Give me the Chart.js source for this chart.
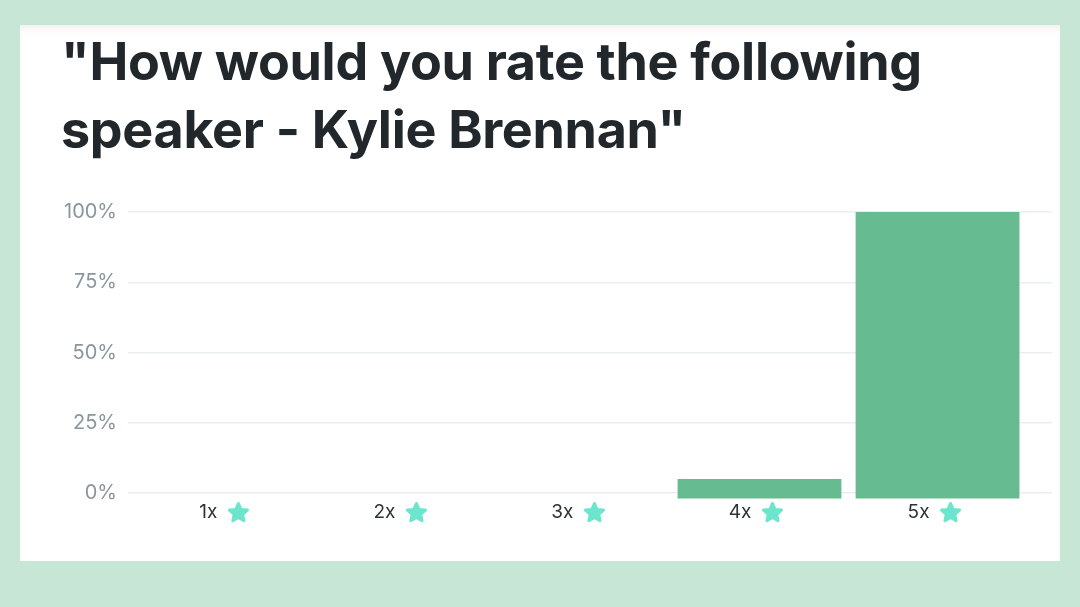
<!DOCTYPE html>
<html>
<head>
<meta charset="utf-8">
<script src="https://cdn.jsdelivr.net/npm/chart.js@4"></script>
<style>
  html, body { margin: 0; padding: 0; }
  body { width: 1080px; height: 607px; background: #c8e6d6; position: relative; overflow: hidden; }
  .card {
    position: absolute; left: 20px; top: 25px; width: 1040px; height: 536px;
    background: #fff; box-shadow: inset 0 10px 10px -8px rgba(0,0,0,0.08);
  }
  h1 {
    position: absolute; left: 41px; top: 3px; margin: 0;
    font-family: Inter, "Noto Sans", sans-serif; font-weight: 700;
    font-size: 52px; line-height: 68px; color: #22272b; letter-spacing: -0.3px;
  }
  .chart-box { position: absolute; left: 0; top: 155px; width: 1040px; height: 360px; }
</style>
</head>
<body>
<div class="card">
  <h1>"How would you rate the following<br>speaker - Kylie Brennan"</h1>
  <div class="chart-box"><canvas id="ratingChart"></canvas></div>
</div>
<script>
// Chart data
const categories = ['1x', '2x', '3x', '4x', '5x'];
const percentages = [0, 0, 0, 5, 100];
const yTicks = [0, 25, 50, 75, 100];

// Draw "Nx" labels with a star under each bar
const starLabels = {
    id: 'starLabels',
    afterDatasetsDraw(chart) {
        const { ctx, chartArea, scales } = chart;
        const y = chartArea.bottom + 19;
        ctx.save();
        categories.forEach((label, i) => {
            const px = scales.x.getPixelForValue(i + 1);
            ctx.font = '19px Inter, "Noto Sans", sans-serif';
            ctx.fillStyle = '#2e3236';
            ctx.textAlign = 'right';
            ctx.textBaseline = 'middle';
            ctx.fillText(label, px - 8, y);

            // star
            const cx = px + 13, cy = y + 1;
            ctx.beginPath();
            for (let k = 0; k < 10; k++) {
                const r = k % 2 === 0 ? 9.5 : 4.4;
                const a = -Math.PI / 2 + k * Math.PI / 5;
                const sx = cx + r * Math.cos(a), sy = cy + r * Math.sin(a);
                if (k === 0) ctx.moveTo(sx, sy); else ctx.lineTo(sx, sy);
            }
            ctx.closePath();
            ctx.fillStyle = '#6be6cc';
            ctx.strokeStyle = '#6be6cc';
            ctx.lineWidth = 3;
            ctx.lineJoin = 'round';
            ctx.fill();
            ctx.stroke();
        });
        ctx.restore();
    }
};

function initRatingChart() {
    const ctx = document.getElementById('ratingChart').getContext('2d');

    const config = {
        type: 'bar',
        data: {
            datasets: [{
                data: percentages.map((v, i) => ({ x: i + 1, y: v })),
                backgroundColor: (c) => (c.raw && c.raw.y > 0 ? '#66bb90' : 'rgba(0,0,0,0)'),
                borderWidth: 0,
                base: -2,
                categoryPercentage: 1,
                barPercentage: 0.92,
                clip: false
            }]
        },
        options: {
            responsive: true,
            maintainAspectRatio: false,
            animation: false,
            layout: { padding: { top: 32, right: 8, left: 0, bottom: 0 } },
            plugins: {
                legend: { display: false },
                tooltip: { enabled: false }
            },
            scales: {
                x: {
                    type: 'linear',
                    offset: false,
                    min: 0.453,
                    max: 5.643,
                    afterBuildTicks: (scale) => {
                        scale.ticks = categories.map((c, i) => ({ value: i + 1 }));
                    },
                    grid: { display: false },
                    border: { display: false },
                    ticks: { display: false },
                    afterFit: (scale) => { scale.height = 47; }
                },
                y: {
                    min: 0,
                    max: 100,
                    afterBuildTicks: (scale) => {
                        scale.ticks = yTicks.map(v => ({ value: v }));
                    },
                    grid: { color: '#e9eef2', lineWidth: 1.5, drawTicks: false },
                    border: { display: false },
                    ticks: {
                        color: '#8a969e',
                        padding: 11,
                        font: { family: 'Inter, "Noto Sans", sans-serif', size: 20 },
                        callback: (value) => value + '%'
                    },
                    afterFit: (scale) => { scale.width = 108; }
                }
            }
        },
        plugins: [starLabels]
    };

    new Chart(ctx, config);
}

document.addEventListener('DOMContentLoaded', () => {
    initRatingChart();
});
</script>
</body>
</html>
